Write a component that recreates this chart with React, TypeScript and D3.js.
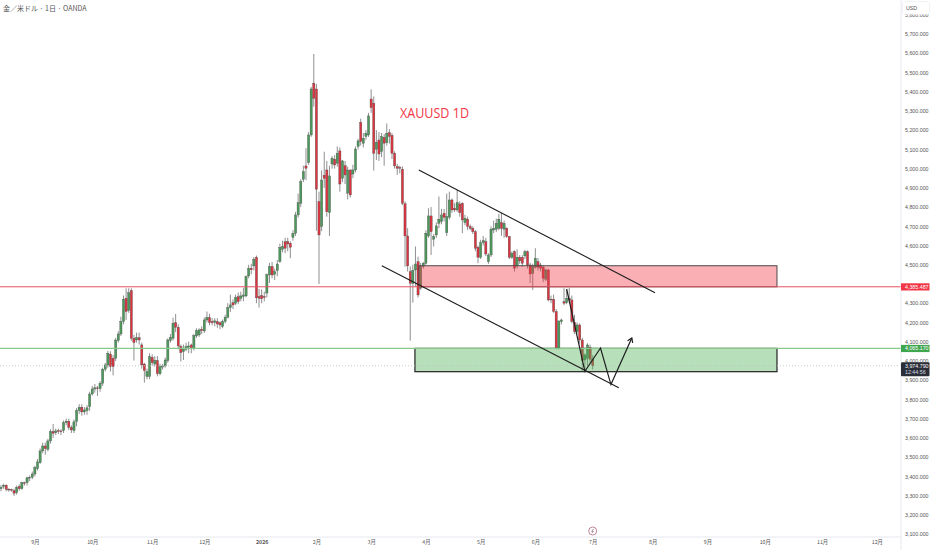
import * as d3 from "d3";
import React, { useCallback } from "react";

// daily gold bars
const opens = [
  3336, 3347, 3354, 3333, 3332, 3326, 3315, 3347, 3336, 3367,
  3367, 3391, 3395, 3412, 3440, 3471, 3532, 3558, 3541, 3584,
  3633, 3627, 3638, 3636, 3638, 3679, 3686, 3655, 3638, 3685,
  3742, 3759, 3735, 3742, 3762, 3828, 3854, 3860, 3856, 3884,
  3957, 3979, 4035, 4014, 4014, 4106, 4140, 4205, 4326, 4262,
  4366, 4118, 4109, 4121, 4083, 3984, 3919, 3919, 4019, 3984,
  4002, 3933, 3968, 3974, 4002, 4106, 4118, 4199, 4175, 4075,
  4048, 4061, 4071, 4083, 4066, 4130, 4135, 4165, 4156, 4213,
  4225, 4205, 4201, 4205, 4199, 4179, 4205, 4227, 4277, 4303,
  4300, 4334, 4326, 4335, 4338, 4442, 4482, 4494, 4539, 4335,
  4341, 4335, 4353, 4447, 4491, 4451, 4470, 4517, 4581, 4620,
  4620, 4612, 4643, 4664, 4759, 4820, 4945, 5014, 5031, 5175,
  5444, 5414, 4829, 4699, 4966, 4993, 4771, 5024, 5049, 5028,
  5092, 4950, 5015, 4872, 4993, 4972, 4993, 5115, 5241, 5132,
  5167, 5175, 5362, 5340, 5101, 5149, 5089, 5163, 5135, 5187,
  5173, 5080, 5011, 5006, 4997, 4817, 4650, 4464, 4404, 4473,
  4516, 4378, 4491, 4508, 4650, 4754, 4633, 4655, 4716, 4725,
  4768, 4667, 4747, 4837, 4794, 4785, 4816, 4820, 4719, 4737,
  4699, 4690, 4672, 4591, 4539, 4615, 4620, 4516, 4551, 4681,
  4685, 4690, 4719, 4685, 4690, 4647, 4539, 4568, 4494, 4539,
  4539, 4546, 4568, 4499, 4456, 4487, 4516, 4499, 4487, 4425,
  4473, 4321, 4321, 4257, 4066, 4205, 4308, 4303, 4326, 4317,
  4201, 4153, 4187, 4109, 4005, 4014, 4071, 4009,
];
const highs = [
  3355, 3362, 3358, 3338, 3336, 3336, 3352, 3358, 3372, 3372,
  3398, 3405, 3425, 3455, 3490, 3545, 3575, 3575, 3595, 3645,
  3672, 3648, 3648, 3645, 3690, 3700, 3700, 3665, 3695, 3755,
  3775, 3775, 3760, 3770, 3840, 3870, 3880, 3870, 3895, 3965,
  3990, 4052, 4050, 4030, 4120, 4155, 4230, 4340, 4378, 4378,
  4378, 4135, 4147, 4147, 4095, 3990, 3960, 4040, 4035, 4025,
  4025, 3985, 3985, 4018, 4118, 4140, 4225, 4244, 4190, 4085,
  4085, 4095, 4100, 4090, 4140, 4170, 4170, 4180, 4225, 4257,
  4245, 4222, 4222, 4222, 4205, 4215, 4240, 4300, 4345, 4320,
  4345, 4355, 4360, 4380, 4445, 4500, 4505, 4540, 4548, 4375,
  4372, 4360, 4455, 4510, 4515, 4480, 4525, 4610, 4625, 4640,
  4640, 4622, 4680, 4775, 4870, 4945, 5015, 5106, 5190, 5425,
  5596, 5440, 4880, 4990, 5088, 5040, 5015, 5065, 5070, 5115,
  5110, 5045, 5040, 5010, 4995, 5020, 5115, 5155, 5260, 5185,
  5200, 5290, 5412, 5375, 5200, 5190, 5185, 5180, 5235, 5205,
  5185, 5090, 5025, 5015, 5012, 4830, 4690, 4491, 4500, 4595,
  4542, 4510, 4515, 4680, 4794, 4800, 4660, 4720, 4855, 4790,
  4790, 4870, 4880, 4845, 4820, 4889, 4830, 4825, 4760, 4750,
  4710, 4700, 4680, 4600, 4630, 4650, 4640, 4560, 4700, 4730,
  4740, 4765, 4770, 4730, 4695, 4650, 4570, 4575, 4580, 4550,
  4550, 4578, 4575, 4510, 4505, 4586, 4535, 4510, 4495, 4480,
  4480, 4340, 4345, 4270, 4080, 4220, 4378, 4370, 4380, 4340,
  4240, 4200, 4195, 4120, 4040, 4092, 4085, 4030,
];
const lows = [
  3322, 3335, 3322, 3320, 3320, 3298, 3305, 3325, 3330, 3352,
  3352, 3375, 3385, 3400, 3430, 3465, 3520, 3512, 3530, 3570,
  3600, 3615, 3620, 3615, 3625, 3665, 3640, 3625, 3625, 3660,
  3725, 3715, 3720, 3720, 3740, 3820, 3835, 3818, 3840, 3870,
  3945, 3965, 3945, 3925, 4000, 4095, 4130, 4190, 4213, 4250,
  4105, 4002, 4095, 4085, 3960, 3887, 3905, 3905, 3975, 3970,
  3920, 3925, 3955, 3965, 3990, 4095, 4105, 4150, 4060, 3997,
  4005, 4050, 4040, 4040, 4055, 4120, 4125, 4140, 4145, 4200,
  4185, 4185, 4180, 4172, 4165, 4170, 4195, 4222, 4255, 4270,
  4290, 4295, 4310, 4310, 4330, 4430, 4450, 4470, 4300, 4277,
  4300, 4310, 4330, 4405, 4430, 4420, 4440, 4510, 4565, 4560,
  4570, 4534, 4625, 4650, 4745, 4800, 4930, 4940, 5020, 5165,
  5322, 4677, 4400, 4675, 4900, 4750, 4650, 5000, 5000, 5010,
  4880, 4930, 4920, 4840, 4850, 4950, 4980, 5100, 5120, 5110,
  5150, 5165, 5290, 4990, 5045, 5040, 5060, 5015, 5120, 5130,
  5050, 5000, 4967, 4975, 4810, 4490, 4465, 4105, 4303, 4387,
  4330, 4370, 4480, 4500, 4640, 4551, 4595, 4640, 4690, 4710,
  4725, 4650, 4735, 4770, 4775, 4775, 4750, 4664, 4705, 4680,
  4680, 4660, 4570, 4508, 4530, 4600, 4545, 4505, 4540, 4665,
  4670, 4680, 4650, 4640, 4640, 4530, 4530, 4465, 4480, 4505,
  4490, 4530, 4480, 4405, 4369, 4480, 4470, 4465, 4410, 4415,
  4310, 4300, 4250, 4060, 4060, 4190, 4290, 4295, 4300, 4195,
  4140, 4140, 4090, 3945, 3945, 3975, 3990, 3955,
];
const closes = [
  3343, 3354, 3333, 3330, 3330, 3312, 3343, 3336, 3367, 3364,
  3392, 3395, 3412, 3445, 3475, 3532, 3558, 3544, 3584, 3633,
  3624, 3636, 3633, 3632, 3679, 3686, 3655, 3641, 3683, 3743,
  3759, 3735, 3745, 3756, 3828, 3854, 3860, 3856, 3884, 3957,
  3979, 4040, 3971, 3971, 4109, 4140, 4205, 4321, 4257, 4355,
  4118, 4095, 4121, 4109, 3979, 3950, 3945, 4023, 3991, 4002,
  3933, 3971, 3974, 4005, 4109, 4123, 4196, 4175, 4078, 4043,
  4066, 4075, 4078, 4066, 4132, 4158, 4161, 4158, 4213, 4225,
  4199, 4199, 4208, 4192, 4187, 4205, 4227, 4277, 4291, 4291,
  4331, 4308, 4338, 4343, 4439, 4482, 4474, 4529, 4328, 4326,
  4323, 4330, 4448, 4491, 4447, 4464, 4504, 4591, 4595, 4586,
  4608, 4591, 4664, 4759, 4823, 4932, 4984, 5002, 5175, 5414,
  5366, 4893, 4655, 4941, 4950, 4776, 4962, 5054, 5019, 5080,
  4920, 5040, 4967, 4993, 4863, 4993, 5102, 5144, 5141, 5158,
  5184, 5274, 5317, 5080, 5137, 5076, 5167, 5132, 5184, 5167,
  5080, 5014, 5002, 5002, 4820, 4650, 4494, 4404, 4470, 4504,
  4343, 4491, 4508, 4664, 4754, 4672, 4647, 4702, 4737, 4759,
  4747, 4750, 4837, 4785, 4785, 4823, 4771, 4733, 4742, 4699,
  4690, 4672, 4586, 4539, 4615, 4625, 4556, 4551, 4685, 4690,
  4716, 4737, 4688, 4716, 4647, 4539, 4560, 4482, 4539, 4520,
  4508, 4568, 4499, 4452, 4491, 4534, 4487, 4482, 4430, 4473,
  4317, 4317, 4257, 4066, 4208, 4213, 4300, 4326, 4317, 4205,
  4153, 4187, 4109, 4002, 4031, 4083, 4009, 3975,
];

// 4,400 sits under the red price tag in the reference
const priceTicks = d3.range(3100, 5801, 100).filter(p => p !== 4400);
const monthBars = [13, 35, 58, 78, 100, 121, 142, 163, 184, 205, 227, 250, 271, 293, 315, 336];
const monthLabels = ["9月", "10月", "11月", "12月", "2026", "2月", "3月", "4月", "5月", "6月", "7月", "8月", "9月", "10月", "11月", "12月"];

const resistanceLevel = 4385.487;
const supportLevel = 4065.17;
const lastPrice = 3974.79;

// drawings in [bar, price]
const upperChannel = [[160.3, 4993], [250.9, 4355]];
const lowerChannel = [[146.1, 4495], [237, 3861]];
const projection = [[217, 4374], [224, 3946], [230, 4067], [234, 3877], [242, 4119]];
const redZone = { from: 160.3, to: 297.7, top: 4495, bottom: resistanceLevel };
const greenZone = { from: 158.8, to: 297.7, top: supportLevel, bottom: 3944 };

const WIDTH = 932;
const HEIGHT = 550;
const AXIS_X = 901;
const AXIS_Y = 537;
const FONT = "'Liberation Sans', Arial, sans-serif";
const LABEL_SIZE = 5.3;

function drawChart(node: SVGSVGElement | null) {
  if (!node) return;
  const svg = d3.select(node);
  svg.selectAll("*").remove();

  const x = d3.scaleLinear().domain([0, 227]).range([1, 592.7]);
  const y = d3.scaleLinear().domain([3100, 5700]).range([534, 34]);

  const bars = d3.range(closes.length);

  // wicks
  svg
    .append("g")
    .selectAll("line")
    .data(bars)
    .join("line")
    .attr("x1", i => x(i))
    .attr("x2", i => x(i))
    .attr("y1", i => y(highs[i]))
    .attr("y2", i => y(lows[i]))
    .attr("stroke", "#8f8f8f")
    .attr("stroke-width", 1);

  // bodies
  svg
    .append("g")
    .selectAll("rect")
    .data(bars)
    .join("rect")
    .attr("x", i => x(i) - 1.1)
    .attr("width", 2.2)
    .attr("y", i => y(Math.max(opens[i], closes[i])))
    .attr("height", i => Math.max(0.8, Math.abs(y(opens[i]) - y(closes[i]))))
    .attr("fill", i => (closes[i] >= opens[i] ? "#4c9a5b" : "#dc3540"))
    .attr("stroke", "#4a4a4a")
    .attr("stroke-width", 0.35);

  // zones
  svg
    .append("rect")
    .attr("x", x(redZone.from))
    .attr("width", x(redZone.to) - x(redZone.from))
    .attr("y", y(redZone.top))
    .attr("height", y(redZone.bottom) - y(redZone.top))
    .attr("fill", "rgba(242, 54, 69, 0.4)")
    .attr("stroke", "#4a4a4a")
    .attr("stroke-width", 1);
  svg
    .append("rect")
    .attr("x", x(greenZone.from))
    .attr("width", x(greenZone.to) - x(greenZone.from))
    .attr("y", y(greenZone.top))
    .attr("height", y(greenZone.bottom) - y(greenZone.top))
    .attr("fill", "rgba(76, 175, 80, 0.4)")
    .attr("stroke", "#222")
    .attr("stroke-width", 1.2);

  // price levels
  const hline = (price: number, color: string, w: number, dash?: string) =>
    svg
      .append("line")
      .attr("x1", 0)
      .attr("x2", AXIS_X)
      .attr("y1", y(price))
      .attr("y2", y(price))
      .attr("stroke", color)
      .attr("stroke-width", w)
      .attr("stroke-dasharray", dash ?? null);
  hline(lastPrice, "#b9bcc4", 0.8, "1 2");
  hline(resistanceLevel, "#e4525f", 1);
  hline(supportLevel, "#86c98a", 1.4);

  // channel and projected path
  const line = d3
    .line<number[]>()
    .x(d => x(d[0]))
    .y(d => y(d[1]));
  [upperChannel, lowerChannel].forEach(c =>
    svg.append("path").attr("d", line(c)).attr("fill", "none").attr("stroke", "#1c1c1c").attr("stroke-width", 1.1)
  );
  svg
    .append("path")
    .attr("d", line(projection))
    .attr("fill", "none")
    .attr("stroke", "#1c1c1c")
    .attr("stroke-width", 1.2)
    .attr("stroke-linejoin", "miter");

  // arrow head on the last leg
  const tip = projection[projection.length - 1];
  const prev = projection[projection.length - 2];
  const angle = Math.atan2(y(tip[1]) - y(prev[1]), x(tip[0]) - x(prev[0]));
  const head = [angle + 2.55, angle - 2.55].map(a => [x(tip[0]) + 5 * Math.cos(a), y(tip[1]) + 5 * Math.sin(a)]);
  svg
    .append("path")
    .attr("d", d3.line()([head[0] as [number, number], [x(tip[0]), y(tip[1])], head[1] as [number, number]]))
    .attr("fill", "none")
    .attr("stroke", "#1c1c1c")
    .attr("stroke-width", 1.2);

  // title + annotation
  svg
    .append("text")
    .attr("x", 3)
    .attr("y", 10.5)
    .attr("font-family", "'Noto Sans CJK JP', sans-serif")
    .attr("font-size", 7)
    .attr("fill", "#555")
    .text("金／米ドル · 1日 · OANDA");
  svg
    .append("text")
    .attr("x", 400)
    .attr("y", 118)
    .attr("font-family", "'Open Sans', sans-serif")
    .attr("font-size", 14)
    .attr("textLength", 69)
    .attr("lengthAdjust", "spacingAndGlyphs")
    .attr("fill", "#f23645")
    .text("XAUUSD 1D");

  // axes frame
  svg.append("line").attr("x1", AXIS_X).attr("x2", AXIS_X).attr("y1", 0).attr("y2", HEIGHT).attr("stroke", "#e6e8ee");
  svg.append("line").attr("x1", 0).attr("x2", AXIS_X).attr("y1", AXIS_Y).attr("y2", AXIS_Y).attr("stroke", "#e6e8ee");

  const yAxis = d3.axisRight(y).tickValues(priceTicks).tickSize(0).tickPadding(0).tickFormat(d3.format(",.3f") as any);
  const yG = svg.append("g").attr("transform", `translate(${AXIS_X + 4},0)`).call(yAxis);
  yG.select(".domain").remove();
  yG.selectAll("text").attr("font-family", FONT).attr("font-size", LABEL_SIZE).attr("fill", "#555");

  const xAxis = d3
    .axisBottom(x)
    .tickValues(monthBars)
    .tickSize(0)
    .tickPadding(0)
    .tickFormat((_, i) => monthLabels[i]);
  const xG = svg.append("g").attr("transform", `translate(0,${AXIS_Y + 3})`).call(xAxis);
  xG.select(".domain").remove();
  xG.selectAll("text")
    .attr("font-family", "'Noto Sans CJK JP', sans-serif")
    .attr("font-size", LABEL_SIZE)
    .attr("font-weight", (_, i) => (monthLabels[i] === "2026" ? 700 : 400))
    .attr("fill", "#555");

  // USD box
  svg
    .append("rect")
    .attr("x", 902.5)
    .attr("y", 1.5)
    .attr("width", 27)
    .attr("height", 12.8)
    .attr("rx", 2.5)
    .attr("fill", "#fff")
    .attr("stroke", "#eceef2")
    .attr("stroke-width", 0.7);
  svg
    .append("text")
    .attr("x", 906)
    .attr("y", 9.5)
    .attr("font-family", FONT)
    .attr("font-size", LABEL_SIZE)
    .attr("fill", "#555")
    .text("USD");

  // price tags
  const tag = (price: number, color: string) => {
    svg.append("rect").attr("x", AXIS_X).attr("y", y(price) - 3.5).attr("width", 28.5).attr("height", 7.2).attr("fill", color);
    svg
      .append("text")
      .attr("x", AXIS_X + 4)
      .attr("y", y(price) + 2.1)
      .attr("font-family", FONT)
      .attr("font-size", LABEL_SIZE)
      .attr("fill", "#fff")
      .text(d3.format(",.3f")(price));
  };
  tag(resistanceLevel, "#f23645");
  tag(supportLevel, "#3fa650");
  svg.append("rect").attr("x", AXIS_X).attr("y", y(lastPrice) - 3.5).attr("width", 28.5).attr("height", 14).attr("rx", 1).attr("fill", "#2a2e39");
  svg
    .append("text")
    .attr("x", AXIS_X + 4)
    .attr("y", y(lastPrice) + 2.2)
    .attr("font-family", FONT)
    .attr("font-size", LABEL_SIZE)
    .attr("fill", "#fff")
    .text(d3.format(",.3f")(lastPrice));
  svg
    .append("text")
    .attr("x", AXIS_X + 4)
    .attr("y", y(lastPrice) + 8.6)
    .attr("font-family", FONT)
    .attr("font-size", LABEL_SIZE)
    .attr("fill", "#d8dbe3")
    .text("12:44:56");

  // event marker near the last bar
  const markX = x(227);
  svg.append("circle").attr("cx", markX).attr("cy", 531).attr("r", 4).attr("fill", "#fff").attr("stroke", "#a8566f").attr("stroke-width", 0.7);
  svg
    .append("path")
    .attr("d", `M${markX + 1},${528.8}L${markX - 1},${531.3}H${markX + 0.6}L${markX - 0.9},${533.2}`)
    .attr("fill", "none")
    .attr("stroke", "#7a4a5c")
    .attr("stroke-width", 0.6);
}

export default function App() {
  const svg = useCallback((node: SVGSVGElement | null) => {
    drawChart(node);
  }, []);

  return (
    <svg
      ref={svg}
      width={WIDTH}
      height={HEIGHT}
      style={{ position: "absolute", left: 0, top: 0, background: "#fff" }}
    />
  );
}
